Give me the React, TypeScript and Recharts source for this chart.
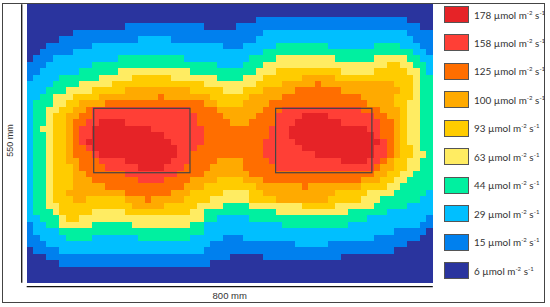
import React from 'react';
import { ScatterChart, Scatter, XAxis, YAxis, ReferenceLine } from 'recharts';

const levelValues = [6, 15, 29, 44, 63, 93, 100, 125, 158, 178];
const levelColors = ['#2A349E', '#0080EE', '#00BFFF', '#00F0A0', '#FFEC62', '#FFCC00', '#FFAA00', '#FF6E00', '#FF3F36', '#E62327'];

// each row: runs written as level-endColumn
const rowRuns = [
  '0-62',
  '0-62',
  '0-35 1-58 0-62',
  '0-15 1-27 0-32 1-60 0-62',
  '0-7 1-36 2-58 1-62',
  '0-5 1-17 2-22 1-35 2-59 1-62',
  '0-3 1-10 2-30 1-33 2-38 3-46 2-53 3-57 2-60 1-62',
  '0-2 1-7 2-36 3-59 2-61 1-62',
  '0-1 1-4 2-14 3-24 2-34 3-38 4-47 3-53 4-58 3-60 2-62',
  '1-3 2-10 3-29 2-33 3-36 4-55 5-57 4-59 3-61 2-62',
  '1-2 2-8 3-14 4-25 3-35 4-38 5-48 4-53 5-58 4-60 3-61 2-62',
  '1-1 2-5 3-11 4-16 5-22 4-29 3-33 4-36 5-42 6-47 5-59 4-60 3-62',
  '2-4 3-8 4-13 5-27 4-35 5-39 6-44 7-45 6-54 6-56 5-59 4-60 3-62',
  '2-3 3-6 4-10 5-15 6-25 5-30 4-33 5-36 6-41 7-48 6-57 5-59 4-60 3-62',
  '2-2 3-4 4-7 5-11 6-20 7-21 6-28 5-34 6-39 7-51 6-56 5-59 4-60 3-62',
  '2-1 3-4 4-6 5-8 6-12 7-27 6-29 5-33 6-37 7-52 6-56 5-58 4-60 3-62',
  '2-1 3-3 4-5 5-7 6-9 7-10 8-25 7-29 6-36 7-39 8-51 7-54 6-57 5-58 4-60 3-62',
  '2-1 3-3 4-4 5-6 6-8 7-10 8-26 7-30 6-35 7-38 8-42 9-46 8-53 7-55 6-57 5-58 4-60 3-62',
  '2-1 3-3 4-4 5-6 6-7 7-9 8-11 9-15 8-26 7-31 6-34 7-38 8-41 9-48 8-54 7-56 6-57 5-58 4-60 3-62',
  '2-1 3-2 4-4 5-6 6-7 7-8 8-10 9-19 8-27 7-37 8-40 9-52 8-54 7-56 6-57 5-58 4-60 3-62',
  '2-1 3-3 4-4 5-6 6-7 7-8 8-10 9-21 8-27 7-37 8-40 9-53 8-54 7-56 6-57 5-58 4-60 3-62',
  '2-1 3-3 4-4 5-6 6-7 7-8 8-9 9-22 8-27 7-36 8-41 9-54 8-55 7-56 6-57 5-58 4-60 3-62',
  '2-1 3-3 4-4 5-6 6-7 7-9 8-10 9-23 8-26 7-36 8-42 9-53 8-55 7-56 6-57 5-59 4-60 3-62',
  '2-1 3-3 4-4 5-6 6-7 7-10 8-11 9-23 8-25 7-36 8-44 9-53 8-55 7-56 6-57 5-59 4-61 3-62',
  '2-1 3-3 4-4 5-6 6-8 7-11 8-15 9-22 8-25 7-29 6-33 7-37 8-48 9-52 8-54 7-55 6-56 5-58 4-60 3-62',
  '2-1 3-3 4-4 5-7 6-8 7-12 8-17 9-21 8-24 7-28 6-33 7-38 8-53 7-54 6-56 5-58 4-60 3-62',
  '2-1 3-3 4-4 5-7 6-9 7-15 8-23 7-27 6-34 7-53 6-55 5-57 4-59 3-62',
  '2-1 3-3 4-4 5-7 6-10 7-17 8-21 7-25 6-29 5-33 6-36 7-51 6-54 5-56 4-58 3-62',
  '2-1 3-3 4-4 5-7 6-12 7-24 6-27 5-35 6-42 7-43 6-51 5-55 4-57 3-62',
  '2-1 3-3 4-4 5-6 6-15 7-22 6-25 5-30 4-34 5-36 6-47 5-52 4-56 3-61 2-62',
  '2-1 3-3 4-4 5-7 6-9 5-15 6-18 7-19 6-24 5-28 4-34 5-38 6-46 5-51 4-54 3-60 2-62',
  '2-1 3-3 4-5 5-16 6-21 5-26 4-30 3-34 4-42 5-47 4-53 3-58 2-62',
  '2-1 3-4 4-5 5-10 4-15 5-25 4-27 3-38 4-49 3-55 2-62',
  '2-2 3-5 4-6 5-8 4-27 3-29 2-34 3-52 2-61 1-62',
  '1-1 2-3 3-5 4-10 3-16 4-25 3-27 2-39 3-49 2-60 1-62',
  '1-1 2-5 3-27 2-56 1-61 0-62',
  '1-2 2-6 3-10 2-17 3-25 2-30 1-33 2-53 1-60 0-62',
  '1-3 2-28 1-41 2-46 1-58 0-62',
  '0-1 1-5 2-27 1-56 0-62',
  '0-3 1-31 0-36 1-48 0-62',
  '0-5 1-28 0-62',
  '0-62',
  '0-62',
  '0-62',
];

// fixture outlines: centre and size in grid units
const fixtures = [
  { col: 17.58, row: 21.31, w: 14.7, h: 10.06 },
  { col: 45.35, row: 21.31, w: 14.7, h: 10.06 },
];
const widthLabel = '800 mm';
const heightLabel = '550 mm';

const COLS = 62;
const ROW_END = 43.53;
const CHART_W = 550;
const CHART_H = 307;
const LEFT = 26.7;
const TOP = 4.13;
const PLOT_W = 406.1;
const PLOT_H = 278.6;
const cellW = PLOT_W / COLS;
const cellH = PLOT_H / ROW_END;

type Cell = { col: number; row: number; h: number };

const cellsByLevel: Cell[][] = levelValues.map(() => []);
rowRuns.forEach((runs, r) => {
  let c = 0;
  const h = Math.min(1, ROW_END - r);
  runs.split(' ').forEach((run) => {
    const [lvl, end] = run.split('-').map(Number);
    for (; c < end; c++) cellsByLevel[lvl].push({ col: c + 0.5, row: r + h / 2, h });
  });
});

const CellShape = (props: any) => {
  const { cx, cy, payload, fill } = props;
  const h = payload.h * cellH;
  return <rect x={cx - cellW / 2} y={cy - h / 2} width={cellW} height={h} fill={fill} shapeRendering="crispEdges" />;
};

const FixtureShape = (props: any) => {
  const { cx, cy, payload } = props;
  const w = payload.w * cellW;
  const h = payload.h * cellH;
  return <rect x={cx - w / 2} y={cy - h / 2} width={w} height={h} fill="none" stroke="#454545" strokeWidth={1.2} />;
};

const HeightLabel = (props: any) => {
  const vb = props.viewBox || {};
  const cx = (vb.x ?? 22) - 12;
  const cy = (vb.y ?? 4) + (vb.height ?? 279) / 2 + 4 - 7;
  return (
    <text x={cx} y={cy} textAnchor="middle" dominantBaseline="central" transform={`rotate(-90 ${cx} ${cy})`} fontSize={9} fontFamily="Liberation Sans" fill="#333">
      {heightLabel}
    </text>
  );
};

const order = levelValues.map((_, i) => levelValues.length - 1 - i);

const LegendBlock = () => (
  <div style={{ position: 'absolute', left: 444, top: 6 }}>
    {order.map((lvl, i) => (
      <div key={lvl} style={{ position: 'absolute', left: 0, top: i * 28.45, height: 17, display: 'flex', alignItems: 'center', whiteSpace: 'nowrap' }}>
        <span style={{ display: 'inline-block', boxSizing: 'border-box', width: 25, height: 17, background: levelColors[lvl], border: '1px solid #555' }} />
        <span style={{ marginLeft: 5, fontFamily: 'Lato', fontSize: 9.9, color: '#333' }}>
          {levelValues[lvl]} µmol m<sup style={{ fontSize: 6, lineHeight: 0 }}>-2</sup> s<sup style={{ fontSize: 6, lineHeight: 0 }}>-1</sup>
        </span>
      </div>
    ))}
  </div>
);

export default function App() {
  return (
    <div style={{ position: 'absolute', left: 0, top: 0, width: CHART_W, height: CHART_H, background: '#fff' }}>
      <div style={{ position: 'absolute', left: 2, top: 3, width: 541, height: 298, border: '1px solid #444' }} />
      <ScatterChart
        width={CHART_W}
        height={CHART_H}
        margin={{ top: TOP, left: LEFT, right: CHART_W - LEFT - PLOT_W, bottom: CHART_H - TOP - PLOT_H }}
        style={{ position: 'absolute', left: 0, top: 0 }}
      >
        <XAxis type="number" dataKey="col" domain={[0, COLS]} hide />
        <YAxis type="number" dataKey="row" domain={[0, ROW_END]} reversed hide />
        {order.map((lvl) => (
          <Scatter
            key={lvl}
            name={`${levelValues[lvl]} µmol m-2 s-1`}
            data={cellsByLevel[lvl]}
            fill={levelColors[lvl]}
            shape={CellShape}
            isAnimationActive={false}
          />
        ))}
        <Scatter name="fixtures" data={fixtures} shape={FixtureShape} isAnimationActive={false} />
        <ReferenceLine
          segment={[{ x: 0, y: 44.15 }, { x: COLS, y: 44.15 }]}
          stroke="#111"
          strokeWidth={1.3}
          ifOverflow="visible"
          label={{ value: widthLabel, position: 'bottom', offset: 6, fill: '#333', fontSize: 9.5, fontFamily: 'Liberation Sans' }}
        />
        <ReferenceLine
          segment={[{ x: -0.76, y: 0 }, { x: -0.76, y: ROW_END }]}
          stroke="#111"
          strokeWidth={1.3}
          ifOverflow="visible"
          label={<HeightLabel />}
        />
      </ScatterChart>
      <LegendBlock />
    </div>
  );
}
